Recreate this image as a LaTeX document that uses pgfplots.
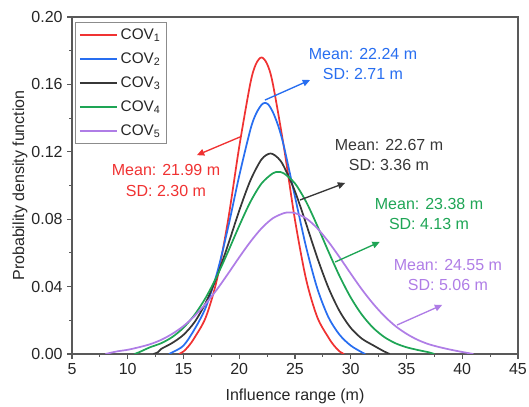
\documentclass[border=0pt]{standalone}
\usepackage{fontspec}
\setmainfont{Liberation Sans}
\usepackage{pgfplots}
\usepackage{pgfplotstable}
\pgfplotsset{compat=1.18}
\usetikzlibrary{arrows.meta}

\definecolor{cred}{RGB}{240,50,50}
\definecolor{cblue}{RGB}{40,110,240}
\definecolor{cblack}{RGB}{55,55,55}
\definecolor{cgreen}{RGB}{30,165,85}
\definecolor{cpurple}{RGB}{175,125,230}

% probability density of the influence range, one table per COV level
\pgfplotstableread{
x y
14.6 0
15 0.0015
15.5 0.0050
16 0.0098
17 0.0218
18 0.0442
19 0.0795
20 0.1230
21 0.1608
21.5 0.1721
22 0.1760
22.5 0.1721
23 0.1608
24 0.1230
25 0.0795
26 0.0442
27 0.0218
28 0.0098
28.5 0.0050
29 0.0015
29.4 0
}\covone
\pgfplotstableread{
x y
13.7 0
14 0.0010
15 0.0050
16 0.0148
17 0.0277
18 0.0479
19 0.0751
20 0.1058
21 0.1332
21.5 0.1425
22 0.1479
22.3 0.1490
22.6 0.1481
23 0.1438
23.5 0.1353
24 0.1234
25 0.0933
26 0.0634
27 0.0389
28 0.0218
29 0.0114
30 0.0050
31 0.0010
31.3 0
}\covtwo
\pgfplotstableread{
x y
12.3 0
12.7 0.0010
13 0.0030
14 0.0066
15 0.0114
16 0.0190
17 0.0305
18 0.0460
19 0.0649
20 0.0851
21 0.1030
22 0.1155
22.8 0.1190
23.5 0.1162
24 0.1113
25 0.0965
26 0.0772
27 0.0571
28 0.0393
29 0.0254
30 0.0155
31 0.0091
32 0.0052
33 0.0015
33.5 0
}\covthree
\pgfplotstableread{
x y
10.6 0
11 0.0010
12 0.0040
13 0.0064
14 0.0101
15 0.0156
16 0.0233
17 0.0335
18 0.0462
19 0.0608
20 0.0761
21 0.0903
22 0.1012
23 0.1072
23.5 0.1080
24 0.1072
25 0.1012
26 0.0903
27 0.0761
28 0.0608
29 0.0462
30 0.0335
31 0.0233
32 0.0156
33 0.0101
34 0.0064
35 0.0040
36 0.0024
37 0.0010
37.5 0
}\covfour
\pgfplotstableread{
x y
8 0
9 0.0015
10 0.0025
11 0.0040
12 0.0058
13 0.0084
14 0.0120
15 0.0166
16 0.0226
17 0.0299
18 0.0383
19 0.0477
20 0.0574
21 0.0666
22 0.0746
23 0.0805
24 0.0836
24.5 0.0840
25 0.0836
26 0.0805
27 0.0746
28 0.0666
29 0.0574
30 0.0477
31 0.0383
32 0.0299
33 0.0226
34 0.0166
35 0.0120
36 0.0084
37 0.0058
38 0.0040
39 0.0025
40 0.0012
41 0
}\covfive

\begin{document}
\begin{tikzpicture}
\begin{axis}[
  scale only axis,
  width=334.5pt, height=252.75pt,
  xmin=5, xmax=45, ymin=0, ymax=0.2,
  xtick={5,10,...,45},
  ytick={0,0.04,0.08,0.12,0.16,0.20},
  minor x tick num=1, minor y tick num=1,
  tick align=outside,
  xtick pos=bottom, ytick pos=left,
  major tick length=3.5pt, minor tick length=2pt,
  axis line style={black!65, line width=0.8pt},
  every tick/.style={black!65, line width=0.8pt},
  /pgf/number format/assume math mode=true,
  ticklabel style={font=\fontsize{12}{14}\selectfont, text=black!85},
  y tick label style={/pgf/number format/fixed, /pgf/number format/fixed zerofill, /pgf/number format/precision=2},
  xlabel={Influence range (m)},
  ylabel={Probability density function},
  every axis x label/.style={at={(axis description cs:0.5,0)}, anchor=center, yshift=-31.5pt},
  every axis y label/.style={at={(axis description cs:0,0.5)}, anchor=center, rotate=90, yshift=39pt},
  label style={font=\fontsize{12}{14}\selectfont, text=black!85},
  legend cell align=left,
  legend style={at={(0.007,0.985)}, anchor=north west, draw=black!45, line width=0.6pt,
    font=\fontsize{11.5}{13}\selectfont, row sep=4.5pt, inner sep=2.5pt, text=black!85},
  legend image code/.code={\draw[#1, line width=1.4pt] (0pt,0pt) -- (28pt,0pt);},
  every axis plot/.append style={line width=1.3pt, smooth},
]
\coordinate (sw) at (rel axis cs:0,0);

\addplot[cred] table {\covone};
\addlegendentry{COV\textsubscript{1}}
\addplot[cblue] table {\covtwo};
\addlegendentry{COV\textsubscript{2}}
\addplot[cblack] table {\covthree};
\addlegendentry{COV\textsubscript{3}}
\addplot[cgreen] table {\covfour};
\addlegendentry{COV\textsubscript{4}}
\addplot[cpurple] table {\covfive};
\addlegendentry{COV\textsubscript{5}}

% statistics of each curve, with pointers
\tikzset{callout/.style={line width=1pt, -{Triangle[length=5.5pt,width=5pt]}},
         stat/.style={align=center, font=\fontsize{12}{15.5}\selectfont}}
\draw[cred, callout] (axis cs:20.07,0.1288) -- (axis cs:16.2,0.118);
\node[stat, text=cred] at (axis cs:13.43,0.103) {Mean: 21.99 m\\SD: 2.30 m};
\draw[cblue, callout] (axis cs:22.3,0.1507) -- (axis cs:26.35,0.1626);
\node[stat, text=cblue] at (axis cs:31.1,0.1721) {Mean: 22.24 m\\SD: 2.71 m};
\draw[cblack, callout] (axis cs:25.45,0.0914) -- (axis cs:29.5,0.1015);
\node[stat, text=cblack] at (axis cs:33.43,0.1181) {Mean: 22.67 m\\SD: 3.36 m};
\draw[cgreen, callout] (axis cs:28.6,0.0546) -- (axis cs:32.6,0.0665);
\node[stat, text=cgreen] at (axis cs:37.02,0.0831) {Mean: 23.38 m\\SD: 4.13 m};
\draw[cpurple, callout] (axis cs:34.15,0.0172) -- (axis cs:38.2,0.0291);
\node[stat, text=cpurple] at (axis cs:38.72,0.0469) {Mean: 24.55 m\\SD: 5.06 m};
\end{axis}
\pgfresetboundingbox
\path (sw) ++(-54pt,-39.75pt) rectangle ++(396.75pt,305.25pt);
\end{tikzpicture}
\end{document}
